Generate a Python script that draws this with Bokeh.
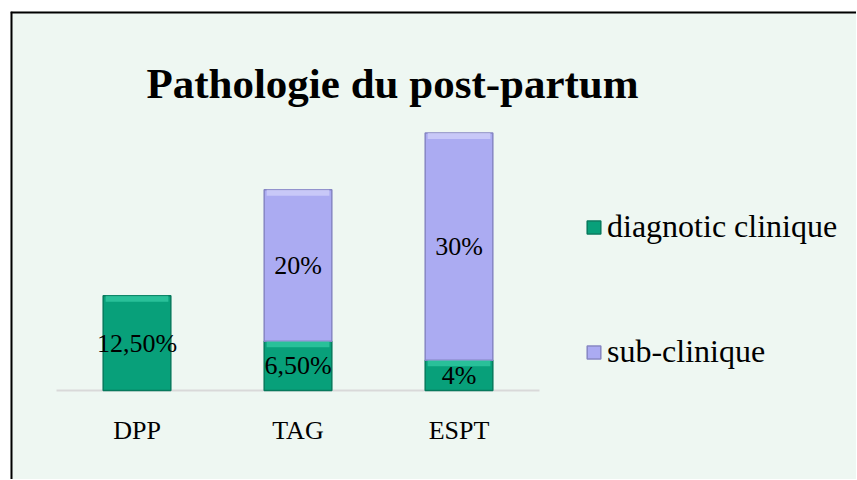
from bokeh.plotting import figure
from bokeh.models import ColumnDataSource, Legend, LegendItem, Label, Range1d, Span
from bokeh.core.properties import value
from bokeh.embed import file_html
from bokeh.resources import INLINE

# ---- data ----
categories = ["DPP", "TAG", "ESPT"]
clinique = [12.5, 6.5, 4.0]
sub_clinique = [0.0, 20.0, 30.0]
labels_clinique = ["12,50%", "6,50%", "4%"]
labels_sub = ["", "20%", "30%"]
series_names = ["diagnotic clinique", "sub-clinique"]
title_text = "Pathologie du post-partum"

GREEN = "#08A07A"
GREEN_EDGE = "#067A5D"
GREEN_HI = "#3FD6AE"
PURPLE = "#ABABF2"
PURPLE_EDGE = "#8686C4"
PURPLE_HI = "#D4D4FB"
BG = "#EEF7F2"
FONT = "Liberation Serif"

# ---- layout (pixels) ----
CW, CH = 846, 468          # canvas size
PX_X = 161.0               # pixels per category band
PX_Y = 7.575               # pixels per percent
X0 = 46.0                  # canvas x of category axis start
Y0 = 379.0                 # canvas y of baseline

x_start = -X0 / PX_X
x_end = (CW - X0) / PX_X
y_end = Y0 / PX_Y
y_start = -(CH - Y0) / PX_Y

p = figure(width=CW, height=CH, output_backend="svg", toolbar_location=None,
           margin=(11, 0, 0, 10), x_axis_location=None, y_axis_location=None,
           min_border=0, min_border_left=0, min_border_right=0,
           min_border_top=0, min_border_bottom=0,
           x_range=Range1d(x_start, x_end), y_range=Range1d(y_start, y_end))
p.background_fill_color = BG
p.border_fill_color = BG
p.outline_line_color = None
p.grid.grid_line_color = None

# frame border (top / left visible)
p.add_layout(Span(location=x_start, dimension="height", line_color="black", line_width=4))
p.add_layout(Span(location=y_end, dimension="width", line_color="black", line_width=4))

xs = [i + 0.5 for i in range(len(categories))]
W = 0.42

# baseline (category axis line)
p.segment(x0=[0], y0=[0], x1=[len(categories)], y1=[0], line_color="#D9D9D9", line_width=2)

# green (clinique) segments
src_c = ColumnDataSource(dict(x=xs, bottom=[0] * len(clinique), top=clinique))
r_c = p.vbar(x="x", bottom="bottom", top="top", width=W, source=src_c,
             fill_color=GREEN, line_color=GREEN_EDGE, line_width=1.5)

# purple (sub-clinique) segments, only where non zero
sx, sb, st = [], [], []
for x, g, s in zip(xs, clinique, sub_clinique):
    if s > 0:
        sx.append(x); sb.append(g); st.append(g + s)
src_s = ColumnDataSource(dict(x=sx, bottom=sb, top=st))
r_s = p.vbar(x="x", bottom="bottom", top="top", width=W, source=src_s,
             fill_color=PURPLE, line_color=PURPLE_EDGE, line_width=1.5)

# bevel highlight on top of each segment
hi = 0.8
p.vbar(x=xs, bottom=[t - hi for t in clinique], top=clinique, width=W - 0.03,
       fill_color=GREEN_HI, fill_alpha=0.6, line_color=None)
p.vbar(x=sx, bottom=[t - hi for t in st], top=st, width=W - 0.03,
       fill_color=PURPLE_HI, fill_alpha=0.7, line_color=None)

# data labels
p.text(x=xs, y=[g / 2 for g in clinique], text=labels_clinique,
       text_align="center", text_baseline="middle", text_font=value(FONT),
       text_font_size="26px", text_color="black")
ly = [g + s / 2 for g, s in zip(clinique, sub_clinique)]
p.text(x=xs, y=ly, text=labels_sub,
       text_align="center", text_baseline="middle", text_font=value(FONT),
       text_font_size="26px", text_color="black")

# category labels
p.text(x=xs, y=[-40 / PX_Y] * len(xs), text=categories,
       text_align="center", text_baseline="alphabetic", text_font=value(FONT),
       text_font_size="26px", text_color="black")

# title
p.add_layout(Label(x=382, y=CH - 72, x_units="screen", y_units="screen", text=title_text,
                   text_align="center", text_baseline="alphabetic",
                   text_font=FONT, text_font_size="43px", text_font_style="bold",
                   text_color="black"))

legend = Legend(items=[LegendItem(label=series_names[0], renderers=[r_c]),
                       LegendItem(label=series_names[1], renderers=[r_s])],
                location=(575, 109), orientation="vertical")
legend.padding = 0
legend.margin = 0
legend.spacing = 88
legend.glyph_width = 17
legend.glyph_height = 16
legend.label_standoff = 5
legend.label_text_font = FONT
legend.label_text_font_size = "32px"
legend.label_text_color = "black"
legend.border_line_color = None
legend.background_fill_alpha = 0
p.add_layout(legend)

open("out.html", "w").write(file_html(p, INLINE))
